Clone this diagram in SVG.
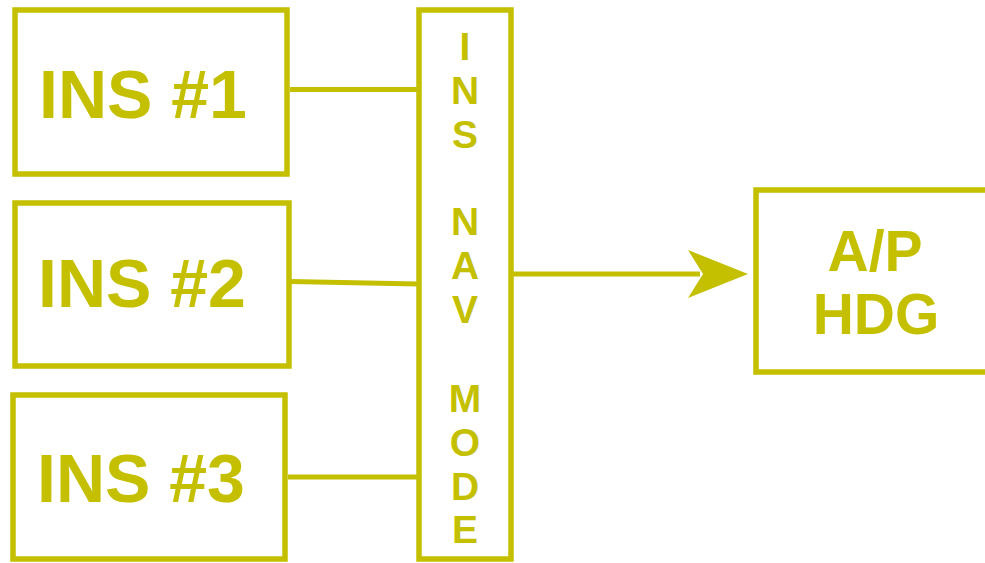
<svg xmlns="http://www.w3.org/2000/svg" width="985" height="563" viewBox="0 0 985 563">
<style>
.box{fill:#fff;stroke:#c4c000;stroke-width:5.5}
.ln{stroke:#c4c000;stroke-width:5;fill:none}
.t{font-family:"Liberation Sans",Arial,sans-serif;font-weight:bold;fill:#c4c000}
.big{font-size:68px}
.bus{font-size:39px;text-anchor:middle}
.ap{font-size:57px;text-anchor:middle}
</style>
<rect width="985" height="563" fill="#fff"/>
<g id="connectors">
<line class="ln" x1="290" y1="89.5" x2="418" y2="89.5"/>
<line class="ln" x1="290" y1="281.5" x2="418" y2="284"/>
<line class="ln" x1="288" y1="477" x2="418" y2="477"/>
<line class="ln" x1="512" y1="274" x2="700" y2="274"/>
<polygon points="748,274 688,250 703,274 688,298" fill="#c4c000"/>
</g>
<g id="ins1">
<rect class="box" x="15" y="10" width="272" height="164"/>
<text class="t big" x="39" y="118">INS #1</text>
</g>
<g id="ins2">
<rect class="box" x="15" y="203" width="274" height="163"/>
<text class="t big" x="38" y="307">INS #2</text>
</g>
<g id="ins3">
<rect class="box" x="13" y="395" width="272" height="164"/>
<text class="t big" x="37" y="502">INS #3</text>
</g>
<g id="bus">
<rect class="box" x="419" y="10" width="92" height="549"/>
<text class="t bus" x="465" y="60">I</text>
<text class="t bus" x="465" y="104">N</text>
<text class="t bus" x="465" y="148">S</text>
<text class="t bus" x="465" y="235">N</text>
<text class="t bus" x="465" y="279">A</text>
<text class="t bus" x="465" y="323">V</text>
<text class="t bus" x="465" y="412">M</text>
<text class="t bus" x="465" y="456">O</text>
<text class="t bus" x="465" y="500">D</text>
<text class="t bus" x="465" y="543">E</text>
</g>
<g id="ap">
<rect class="box" x="756" y="190" width="260" height="182"/>
<text class="t ap" x="875" y="271">A/P</text>
<text class="t ap" x="876" y="334">HDG</text>
</g>
</svg>
